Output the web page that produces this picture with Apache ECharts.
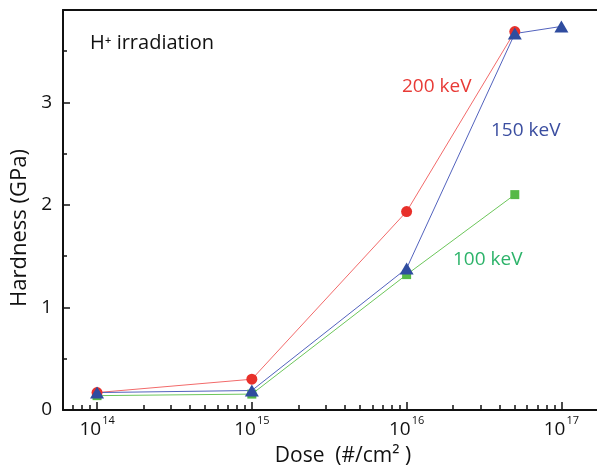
<!DOCTYPE html>
<html>
<head>
<meta charset="utf-8">
<script src="https://cdn.jsdelivr.net/npm/echarts@6/dist/echarts.min.js"></script>
<style>
html,body{margin:0;padding:0;background:#fff;}
#chart{width:597px;height:466px;}
</style>
</head>
<body>
<div id="chart"></div>
<script>
// Data (dose in #/cm^2, hardness in GPa)
var doses100 = [1e14, 1e15, 1e16, 5e16];
var hard100  = [0.14, 0.155, 1.32, 2.10];
var doses150 = [1e14, 1e15, 1e16, 5e16, 1e17];
var hard150  = [0.17, 0.19, 1.38, 3.67, 3.74];
var doses200 = [1e14, 1e15, 1e16, 5e16];
var hard200  = [0.17, 0.30, 1.935, 3.69];

var majorTicks = [1e14, 1e15, 1e16, 1e17];
var minorTicks = [];
[1e13, 1e14, 1e15, 1e16].forEach(function (d) {
  [2,3,4,5,6,7,8,9].forEach(function (m) { minorTicks.push(m * d); });
});

var FONT = 'Open Sans';
function pairs(xs, ys) { return xs.map(function (x, i) { return [x, ys[i]]; }); }

var chart = echarts.init(document.getElementById('chart'), null, {renderer: 'canvas'});
chart.setOption({
  animation: false,
  grid: {left: 63, right: 0, top: 10, bottom: 56, containLabel: false, outerBoundsMode: 'none'},
  xAxis: [{
    type: 'log', logBase: 10,
    min: Math.pow(10, 13.78), max: Math.pow(10, 17.23),
    position: 'bottom',
    name: 'Dose  (#/cm\u00B2 )',
    nameLocation: 'middle', nameGap: 36,
    nameTextStyle: {fontFamily: FONT, fontSize: 21, color: '#111', padding: [0, 0, 0, 26]},
    axisLine: {show: true, onZero: false, lineStyle: {color: '#111', width: 2}},
    axisTick: {show: true, inside: true, length: 8, customValues: majorTicks, lineStyle: {color: '#111', width: 1.5}},
    axisLabel: {
      show: true, margin: 5, customValues: majorTicks,
      formatter: function (v) { return '{b|10}{s|' + Math.round(Math.log10(v)) + '}'; },
      rich: {
        b: {fontFamily: FONT, fontSize: 19, color: '#111', verticalAlign: 'bottom', lineHeight: 24},
        s: {fontFamily: FONT, fontSize: 11, color: '#111', verticalAlign: 'top', lineHeight: 24, padding: [0,0,0,1]}
      }
    },
    splitLine: {show: false}, minorTick: {show: false}
  }, {
    type: 'log', logBase: 10,
    min: Math.pow(10, 13.78), max: Math.pow(10, 17.23),
    position: 'bottom',
    axisLine: {show: false},
    axisTick: {show: true, inside: true, length: 5, customValues: minorTicks, lineStyle: {color: '#111', width: 1.5}},
    axisLabel: {show: false},
    splitLine: {show: false}
  }, {
    type: 'log', logBase: 10,
    min: Math.pow(10, 13.78), max: Math.pow(10, 17.23),
    position: 'top',
    axisLine: {show: true, lineStyle: {color: '#111', width: 2}},
    axisTick: {show: false}, axisLabel: {show: false}, splitLine: {show: false}
  }],
  yAxis: {
    type: 'value', min: 0, max: 3.9, interval: 1,
    name: 'Hardness (GPa)', nameLocation: 'middle', nameGap: 29,
    nameTextStyle: {fontFamily: FONT, fontSize: 22, color: '#111', padding: [0, 36, 0, 0]},
    axisLine: {show: true, lineStyle: {color: '#111', width: 2}},
    axisTick: {show: true, inside: true, length: 7, lineStyle: {color: '#111', width: 1.5}},
    minorTick: {show: true, splitNumber: 2, length: 4, lineStyle: {color: '#111', width: 1.5}},
    axisLabel: {fontFamily: FONT, fontSize: 19, color: '#111', margin: 11, showMaxLabel: false},
    splitLine: {show: false}
  },
  series: [{
    name: '100 keV', type: 'line', xAxisIndex: 0,
    data: pairs(doses100, hard100),
    symbol: 'rect', symbolSize: 9,
    lineStyle: {color: '#6cc65a', width: 1},
    itemStyle: {color: '#56b947'}
  }, {
    name: '200 keV', type: 'line', xAxisIndex: 0,
    data: pairs(doses200, hard200),
    symbol: 'circle', symbolSize: 11,
    lineStyle: {color: '#f26a6a', width: 1},
    itemStyle: {color: '#e8302a'}
  }, {
    name: '150 keV', type: 'line', xAxisIndex: 0,
    data: pairs(doses150, hard150),
    symbol: 'triangle', symbolSize: [14, 12],
    lineStyle: {color: '#5262bd', width: 1},
    itemStyle: {color: '#2f4c9f'}
  }],
  graphic: [
    {type: 'text', left: 90, top: 33, style: {text: 'H\u207A irradiation', fontFamily: FONT, fontSize: 20, fill: '#111'}},
    {type: 'text', left: 402, top: 77, style: {text: '200 keV', fontFamily: FONT, fontSize: 19, fill: '#e83a36'}},
    {type: 'text', left: 491, top: 121, style: {text: '150 keV', fontFamily: FONT, fontSize: 19, fill: '#3b4ea0'}},
    {type: 'text', left: 453, top: 250, style: {text: '100 keV', fontFamily: FONT, fontSize: 19, fill: '#2db36a'}}
  ]
});
</script>
</body>
</html>
